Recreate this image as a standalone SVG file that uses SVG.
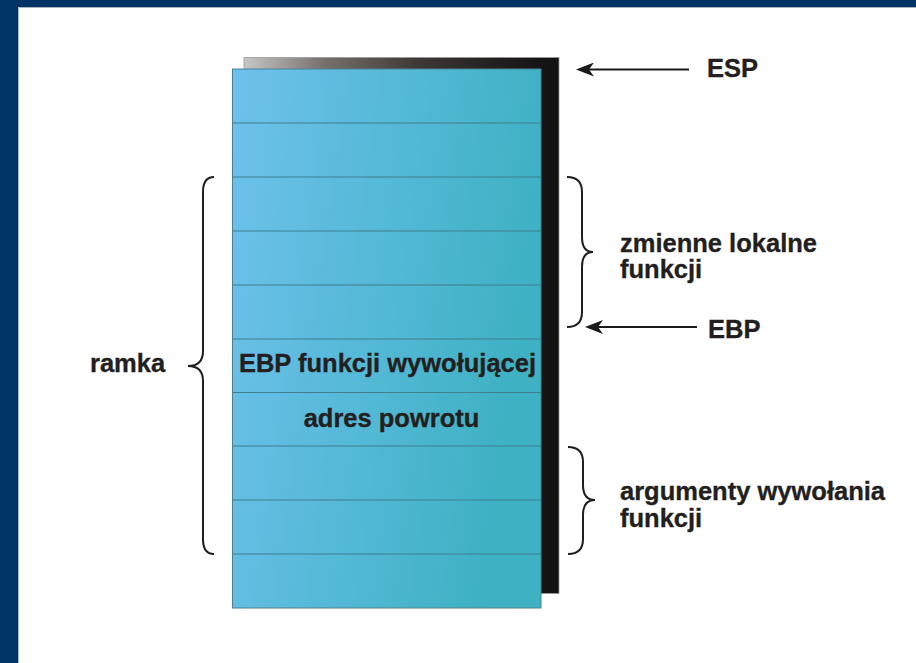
<svg xmlns="http://www.w3.org/2000/svg" width="916" height="663" viewBox="0 0 916 663">
  <defs>
    <linearGradient id="cellFill" x1="0" y1="0" x2="1" y2="0.25">
      <stop offset="0" stop-color="#6ec1ec"/>
      <stop offset="1" stop-color="#3eb1c3"/>
    </linearGradient>
    <linearGradient id="shadowFill" x1="0" y1="0" x2="1" y2="0">
      <stop offset="0" stop-color="#c6c6c6"/>
      <stop offset="0.25" stop-color="#78726f"/>
      <stop offset="0.55" stop-color="#3d3937"/>
      <stop offset="0.85" stop-color="#1d1b1b"/>
      <stop offset="1" stop-color="#121212"/>
    </linearGradient>
    <!-- arrowhead: tip at x=18, notched back -->
    <marker id="arrowHead" viewBox="0 0 18 14" refX="13" refY="7" markerWidth="18" markerHeight="14" markerUnits="userSpaceOnUse" orient="auto">
      <path d="M18,7 L0,0 L5,7 L0,14 Z" fill="#1a1a1a"/>
    </marker>
  </defs>
  <style>
    .label { font-family: "Liberation Sans", Arial, sans-serif; font-weight: bold; font-size: 25.5px; fill: #231f20; stroke: #231f20; stroke-width: 0.35; }
    .brace { fill: none; stroke: #1e1e1e; stroke-width: 2; }
    .row { stroke: #3f7f8e; stroke-width: 1.2; }
    .pointer { stroke: #1a1a1a; stroke-width: 2.2; fill: none; }
  </style>

  <!-- page background and frame -->
  <rect x="0" y="0" width="916" height="663" fill="#ffffff"/>
  <rect x="0" y="0" width="916" height="7" fill="#003366"/>
  <rect x="0" y="0" width="18" height="663" fill="#003366"/>
  <path d="M18.5,663 L18.5,7.5 L916,7.5" fill="none" stroke="#aab6c2" stroke-width="1"/>

  <!-- stack frame -->
  <g id="stack">
    <rect x="244" y="57.5" width="315" height="536" fill="url(#shadowFill)" stroke="#9a9a9a" stroke-width="0.8"/>
    <rect x="232.5" y="69" width="308.5" height="539" fill="url(#cellFill)" stroke="#4a8192" stroke-width="1"/>
    <line class="row" x1="233" y1="123" x2="541" y2="123"/>
    <line class="row" x1="233" y1="177" x2="541" y2="177"/>
    <line class="row" x1="233" y1="231" x2="541" y2="231"/>
    <line class="row" x1="233" y1="285" x2="541" y2="285"/>
    <line class="row" x1="233" y1="339" x2="541" y2="339"/>
    <line class="row" x1="233" y1="392.5" x2="541" y2="392.5"/>
    <line class="row" x1="233" y1="446" x2="541" y2="446"/>
    <line class="row" x1="233" y1="500" x2="541" y2="500"/>
    <line class="row" x1="233" y1="554" x2="541" y2="554"/>
  </g>

  <g id="cell-ebp-caller">
    <text class="label" x="387.5" y="372" text-anchor="middle">EBP funkcji wywołującej</text>
  </g>
  <g id="cell-return-address">
    <text class="label" x="391.5" y="427" text-anchor="middle">adres powrotu</text>
  </g>

  <!-- braces -->
  <g id="brace-frame">
    <path class="brace" d="M214,177 Q203,177 203,192 L203,351 Q203,366 188,366 Q203,366 203,381 L203,539 Q203,554 214,554"/>
    <text class="label" x="90" y="372">ramka</text>
  </g>
  <g id="brace-locals">
    <path class="brace" d="M567,177 Q582,177 582,192 L582,237 Q582,252 593,252 Q582,252 582,267 L582,312 Q582,327 567,327"/>
    <text class="label" x="620" y="252">zmienne lokalne</text>
    <text class="label" x="620" y="278">funkcji</text>
  </g>
  <g id="brace-args">
    <path class="brace" d="M568,447 Q583,447 583,462 L583,485 Q583,500 595,500 Q583,500 583,515 L583,539 Q583,554 568,554"/>
    <text class="label" x="620" y="500">argumenty wywołania</text>
    <text class="label" x="620" y="527">funkcji</text>
  </g>

  <!-- register pointers -->
  <g id="esp">
    <text class="label" x="707" y="77">ESP</text>
  </g>
  <g id="ebp">
    <text class="label" x="708" y="338">EBP</text>
  </g>
  <g id="connectors">
    <line class="pointer" x1="689" y1="69.5" x2="581" y2="69.5" marker-end="url(#arrowHead)"/>
    <line class="pointer" x1="697" y1="327" x2="590" y2="327" marker-end="url(#arrowHead)"/>
  </g>
</svg>
